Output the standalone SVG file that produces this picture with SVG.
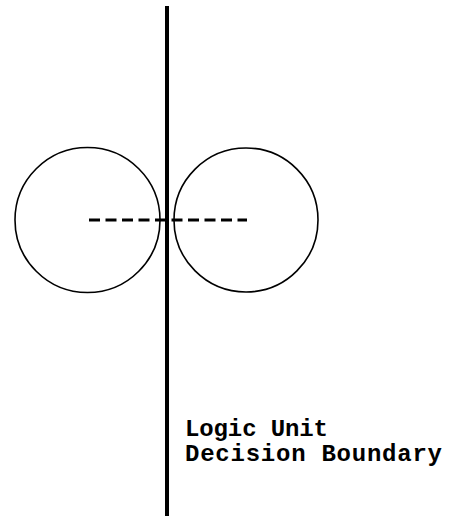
<svg xmlns="http://www.w3.org/2000/svg" width="452" height="522" viewBox="0 0 452 522">
<style>
.c{fill:none;stroke:#000;stroke-width:1.6}
.t{font-family:"Liberation Mono","Courier New",monospace;font-size:24px;font-weight:bold;fill:#000}
</style>
<rect width="452" height="522" fill="#fff"/>
<g id="left-circle"><circle class="c" cx="87.5" cy="220" r="72.5"/></g>
<g id="right-circle"><circle class="c" cx="246" cy="220" r="72"/></g>
<g id="connectors">
<line x1="167" y1="6" x2="167" y2="516" stroke="#000" stroke-width="4"/>
<line x1="89" y1="220" x2="247" y2="220" stroke="#000" stroke-width="3" stroke-dasharray="11,5.5"/>
</g>
<g id="label">
<text class="t" x="185" y="436" textLength="143" lengthAdjust="spacing">Logic Unit</text>
<text class="t" x="185" y="461" textLength="257" lengthAdjust="spacing">Decision Boundary</text>
</g>
</svg>
